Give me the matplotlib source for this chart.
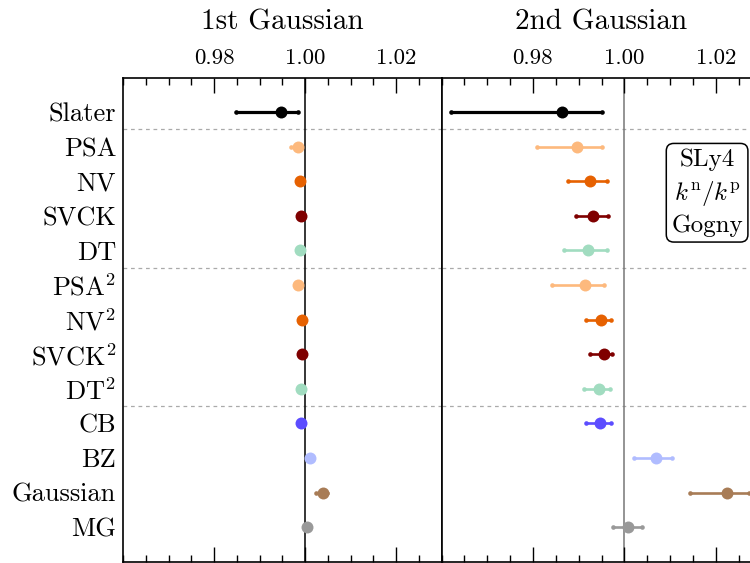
import numpy as np
import matplotlib
matplotlib.use("Agg")
import matplotlib.pyplot as plt
from matplotlib.ticker import MultipleLocator, FormatStrFormatter

plt.rcParams.update({
    "font.family": "serif",
    "font.serif": ["cmr10"],
    "mathtext.fontset": "cm",
    "axes.formatter.use_mathtext": True,
    "axes.unicode_minus": False,
})

# model labels, top to bottom
models = ["Slater", "PSA", "NV", "SVCK", "DT",
          "PSA$^2$", "NV$^2$", "SVCK$^2$", "DT$^2$",
          "CB", "BZ", "Gaussian", "MG"]
colors = ["#000000", "#fdb97d", "#e66101", "#7f0000", "#a1dcc0",
          "#fdb97d", "#e66101", "#7f0000", "#a1dcc0",
          "#5c4dff", "#b0bcff", "#a87c56", "#999999"]

# 1st Gaussian: central value, lower and upper bounds
g1_val = [0.9947, 0.9984, 0.9989, 0.9991, 0.9989,
          0.9985, 0.9993, 0.9994, 0.9991,
          0.9992, 1.0012, 1.0040, 1.0004]
g1_lo = [0.9848, 0.9969, 0.9986, 0.9988, 0.9986,
         0.9982, 0.9990, 0.9991, 0.9988,
         0.9989, 1.0009, 1.0024, 1.0001]
g1_hi = [0.9984, 0.9990, 0.9992, 0.9994, 0.9992,
         0.9988, 0.9996, 0.9997, 0.9994,
         0.9995, 1.0015, 1.0048, 1.0007]

# 2nd Gaussian: central value, lower and upper bounds
g2_val = [0.9864, 0.9896, 0.9925, 0.9931, 0.9921,
          0.9913, 0.9948, 0.9956, 0.9944,
          0.9947, 1.0070, 1.0225, 1.0009]
g2_lo = [0.9620, 0.9808, 0.9877, 0.9894, 0.9868,
         0.9842, 0.9916, 0.9924, 0.9912,
         0.9917, 1.0022, 1.0144, 0.9976]
g2_hi = [0.9952, 0.9950, 0.9961, 0.9965, 0.9961,
         0.9956, 0.9970, 0.9974, 0.9969,
         0.9971, 1.0104, 1.0272, 1.0038]

titles = ["1st Gaussian", "2nd Gaussian"]
xticks = [0.98, 1.00, 1.02]
separators = [0.5, 4.5, 8.5]

fig = plt.figure(figsize=(7.5, 5.63), dpi=100)
W, H = 750, 563
ax_top, ax_bot = 77.5, 561.7
panels = [
    fig.add_axes([123 / W, 1 - ax_bot / H, 318.5 / W, (ax_bot - ax_top) / H]),
    fig.add_axes([441.5 / W, 1 - ax_bot / H, 320 / W, (ax_bot - ax_top) / H]),
]

ypos = np.arange(len(models))
datasets = [(g1_val, g1_lo, g1_hi), (g2_val, g2_lo, g2_hi)]
ref_colors = ["#000000", "#777777"]

for k, (ax, (val, lo, hi)) in enumerate(zip(panels, datasets)):
    ax.set_xlim(0.96, 1.03)
    ax.set_ylim(len(models), -1)
    ax.axvline(1.0, color=ref_colors[k], lw=1.1, zorder=1)
    for s in separators:
        ax.axhline(s, color="#aaaaaa", lw=0.9, ls=(0, (3, 3)), zorder=0)
    for i in range(len(models)):
        lw = 2.3 if i == 0 else 1.9
        ax.plot([lo[i], hi[i]], [ypos[i], ypos[i]], color=colors[i],
                lw=lw, solid_capstyle="round", zorder=2)
        ax.plot([lo[i], hi[i]], [ypos[i], ypos[i]], "o", color=colors[i],
                ms=3.3, mec="none", zorder=2)
        ax.plot(val[i], ypos[i], "o", color=colors[i], ms=8.6, mec="none",
                zorder=3)
    ax.xaxis.set_minor_locator(MultipleLocator(0.005))
    ax.set_xticks(xticks)
    ax.xaxis.set_major_formatter(FormatStrFormatter("%.2f"))
    ax.tick_params(axis="x", which="both", direction="in", top=True,
                   bottom=True, labeltop=True, labelbottom=False,
                   width=1.0, labelsize=16.5, pad=7)
    ax.tick_params(axis="x", which="major", length=11)
    ax.tick_params(axis="x", which="minor", length=5)
    ax.set_yticks(ypos)
    if k == 0:
        ax.set_yticklabels(models)
        ax.tick_params(axis="y", length=0, labelsize=19, pad=5)
    else:
        ax.set_yticklabels([])
        ax.tick_params(axis="y", length=0)
    for sp in ax.spines.values():
        sp.set_linewidth(1.2)
    cx = (ax.get_position().x0 + ax.get_position().x1) / 2
    fig.text(cx, 1 - 30 / H, titles[k], ha="center", va="baseline",
             fontsize=21)

panels[1].text(0.83, 0.762,
               "SLy4\n$k^\\mathrm{n}/k^\\mathrm{p}$\nGogny",
               transform=panels[1].transAxes, ha="center", va="center",
               fontsize=18, linespacing=1.38, zorder=5,
               bbox=dict(boxstyle="round,pad=0.2,rounding_size=0.3",
                         fc="white", ec="black", lw=1.1))

fig.savefig("out.png", dpi=100)
